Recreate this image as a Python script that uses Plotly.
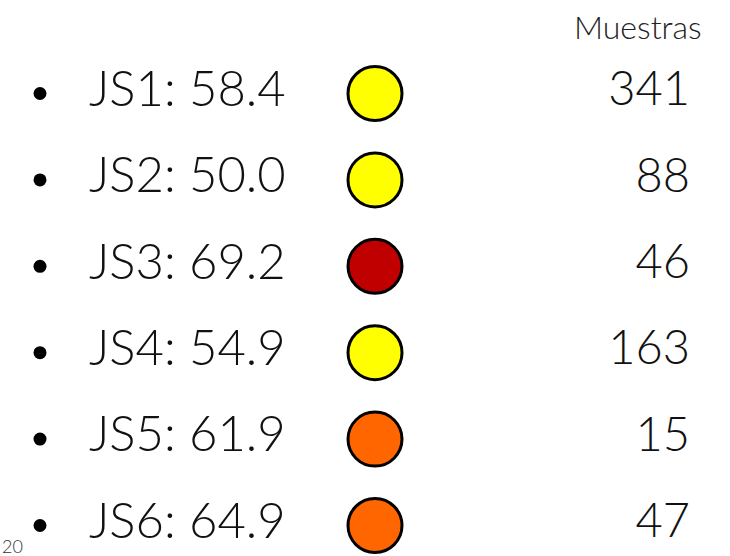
import plotly.graph_objects as go

labels = ["JS1", "JS2", "JS3", "JS4", "JS5", "JS6"]
scores = [58.4, 50.0, 69.2, 54.9, 61.9, 64.9]
samples = [341, 88, 46, 163, 15, 47]
colors = ["#FFFF00", "#FFFF00", "#C00000", "#FFFF00", "#FF6600", "#FF6600"]
header = "Muestras"
page_number = "20"

W, H = 730, 556
row0, step = 93.5, 86.4
ys = [row0 + i * step for i in range(len(labels))]

FONT = "Lato"
fig = go.Figure()

# bullets
fig.add_trace(go.Scatter(
    x=[40] * len(labels), y=ys, mode="markers",
    marker=dict(size=13, color="black"), hoverinfo="skip"))

# labels
fig.add_trace(go.Scatter(
    x=[89] * len(labels), y=ys, mode="text",
    text=[f"{l}: {s:.1f}" for l, s in zip(labels, scores)],
    textposition="middle right",
    textfont=dict(family=FONT, size=49, color="#111111", weight=300),
    hoverinfo="skip"))

# circles
fig.add_trace(go.Scatter(
    x=[375] * len(labels), y=ys, mode="markers",
    marker=dict(size=54, color=colors, line=dict(color="black", width=3)),
    hoverinfo="skip"))

# sample counts
fig.add_trace(go.Scatter(
    x=[690] * len(labels), y=ys, mode="text",
    text=[str(n) for n in samples],
    textposition="middle left",
    textfont=dict(family=FONT, size=47, color="#111111", weight=300),
    hoverinfo="skip"))

fig.add_annotation(x=704, y=26, text=header, showarrow=False, xanchor="right",
                   yanchor="middle", font=dict(family=FONT, size=32, color="#222222", weight=300))
fig.add_annotation(x=1, y=546, text=page_number, showarrow=False, xanchor="left",
                   yanchor="middle", borderpad=0,
                   font=dict(family=FONT, size=18, color="#333333", weight=300))

fig.update_layout(
    width=W, height=H, margin=dict(l=0, r=0, t=0, b=0, pad=0),
    paper_bgcolor="white", plot_bgcolor="white", showlegend=False,
    xaxis=dict(range=[0, W], visible=False, fixedrange=True),
    yaxis=dict(range=[H, 0], visible=False, fixedrange=True),
)
fig.write_html("out.html", config={"displayModeBar": False},
               post_script="document.body.style.margin='0';document.body.style.overflow='hidden';")
